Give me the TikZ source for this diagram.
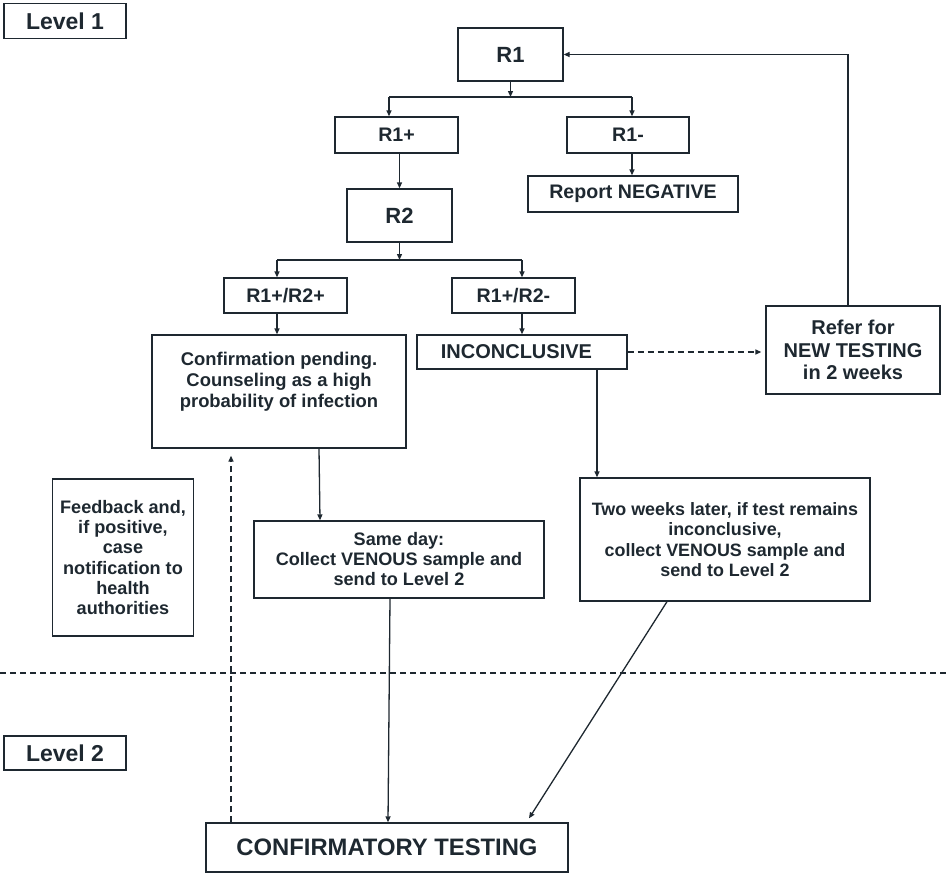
\documentclass[tikz,border=0pt]{standalone}
\usepackage{fontspec}
\setmainfont{Liberation Sans}
\usetikzlibrary{arrows.meta}
\definecolor{ink}{RGB}{30,40,48}
\begin{document}
\begin{tikzpicture}[x=1pt,y=-1pt,
  box/.style={draw=ink,line width=1.3pt,inner sep=0pt,align=center,text=ink,
    font=\bfseries\fontsize{18.4}{20.7}\selectfont},
  lbl/.style={box,font=\bfseries\fontsize{19.6}{22}\selectfont},
  big/.style={box,font=\bfseries\fontsize{22}{24}\selectfont},
  lvl/.style={box,font=\bfseries\fontsize{23}{25}\selectfont},
  arr/.style={draw=ink,line width=1.3pt,-{Triangle[length=6pt,width=5pt]}},
  ln/.style={draw=ink,line width=1.3pt},
  dsh/.style={draw=ink,line width=1.3pt,dash pattern=on 6pt off 4pt}]
\useasboundingbox (0,0) rectangle (946,873);

% nodes
\node[lvl,minimum width=122pt,minimum height=35pt] (L1) at (65,21) {Level 1};
\node[big,minimum width=105pt,minimum height=53pt] (R1) at (510.5,54.5) {R1};
\node[lbl,minimum width=123pt,minimum height=36pt] (R1p) at (396.5,135) {R1+};
\node[lbl,minimum width=122pt,minimum height=36pt] (R1m) at (628,135) {R1-};
\node[lbl,minimum width=210pt,minimum height=36pt] (RN) at (633,194) {Report NEGATIVE};
\node[big,minimum width=105pt,minimum height=53pt] (R2) at (399.5,215.5) {R2};
\node[lbl,minimum width=123pt,minimum height=35pt] (R12p) at (285.5,295.5) {R1+/R2+};
\node[lbl,minimum width=123pt,minimum height=35pt] (R12m) at (513.5,295.5) {R1+/R2-};
\node[box,minimum width=254pt,minimum height=113pt] (CP) at (279,391.5)
  {Confirmation pending.\\Counseling as a high\\probability of infection\\[3pt]};
\node[lbl,font=\bfseries\fontsize{20}{22}\selectfont,minimum width=210pt,minimum height=34pt] (INC) at (522,352) {INCONCLUSIVE~~};
\node[box,font=\bfseries\fontsize{20}{22.5}\selectfont,minimum width=174pt,minimum height=88pt] (REF) at (853,350)
  {Refer for\\NEW TESTING\\in 2 weeks};
\node[box,font=\bfseries\fontsize{18.1}{20.3}\selectfont,minimum width=140.5pt,minimum height=157pt] (FB) at (123,557.5)
  {Feedback and,\\if positive,\\case\\notification to\\health\\authorities};
\node[box,font=\bfseries\fontsize{18.1}{20}\selectfont,minimum width=290pt,minimum height=77pt] (SD) at (399,559.5)
  {Same day:\\Collect VENOUS sample and\\send to Level 2};
\node[box,font=\bfseries\fontsize{17.9}{20.3}\selectfont,minimum width=290pt,minimum height=123pt] (TW) at (725,539.5)
  {Two weeks later, if test remains\\inconclusive,\\collect VENOUS sample and\\send to Level 2};
\node[lvl,minimum width=122pt,minimum height=34pt] (L2) at (65,753) {Level 2};
\node[box,font=\bfseries\fontsize{23.8}{26}\selectfont,minimum width=362pt,minimum height=49pt] (CT) at (387,847.5) {CONFIRMATORY TESTING};

% helper coordinates
\coordinate (j1) at (510.5,97);
\coordinate (j1l) at (389,97);
\coordinate (j1r) at (632,97);
\coordinate (j2) at (399.5,260);
\coordinate (j2l) at (277,260);
\coordinate (j2r) at (522,260);
\coordinate (xa) at (597,0);
\coordinate (hl) at (0,673);
\coordinate (hr) at (946,673);

% level 1 tree
\draw[arr] (R1.south) -- (j1);
\draw[ln] (j1l) -- (j1r);
\draw[arr] (j1l) -- (j1l |- R1p.north);
\draw[arr] (j1r) -- (j1r |- R1m.north);
\draw[arr] (j1r |- R1m.south) -- (j1r |- RN.north);
\draw[arr] (R2.north |- R1p.south) -- (R2.north);
\draw[arr] (R2.south) -- (j2);
\draw[ln] (j2l) -- (j2r);
\draw[arr] (j2l) -- (j2l |- R12p.north);
\draw[arr] (j2r) -- (j2r |- R12m.north);
\draw[arr] (j2l |- R12p.south) -- (j2l |- CP.north);
\draw[arr] (j2r |- R12m.south) -- (j2r |- INC.north);

% inconclusive branch
\draw[dsh,-{Triangle[length=6pt,width=5pt]}] (INC.east) -- ([xshift=-4pt]REF.west |- INC.east);
\draw[arr] (xa |- INC.south) -- (xa |- TW.north);
\draw[arr] ([xshift=-5pt]REF.north) |- (R1.east);

% to level 2
\draw[arr] ([xshift=40pt]CP.south) -- ([xshift=-79pt]SD.north);
\draw[arr] ([xshift=-9pt]SD.south) -- ([xshift=1pt]CT.north);
\draw[arr] ([xshift=-58pt]TW.south) -- ([xshift=142pt,yshift=4pt]CT.north);
\draw[dsh,-{Triangle[length=6pt,width=5pt]}] ([xshift=-156pt]CT.north) -- ([xshift=-48pt,yshift=-7pt]CP.south);

% level separator
\draw[dsh] (hl) -- (hr);
\end{tikzpicture}
\end{document}
